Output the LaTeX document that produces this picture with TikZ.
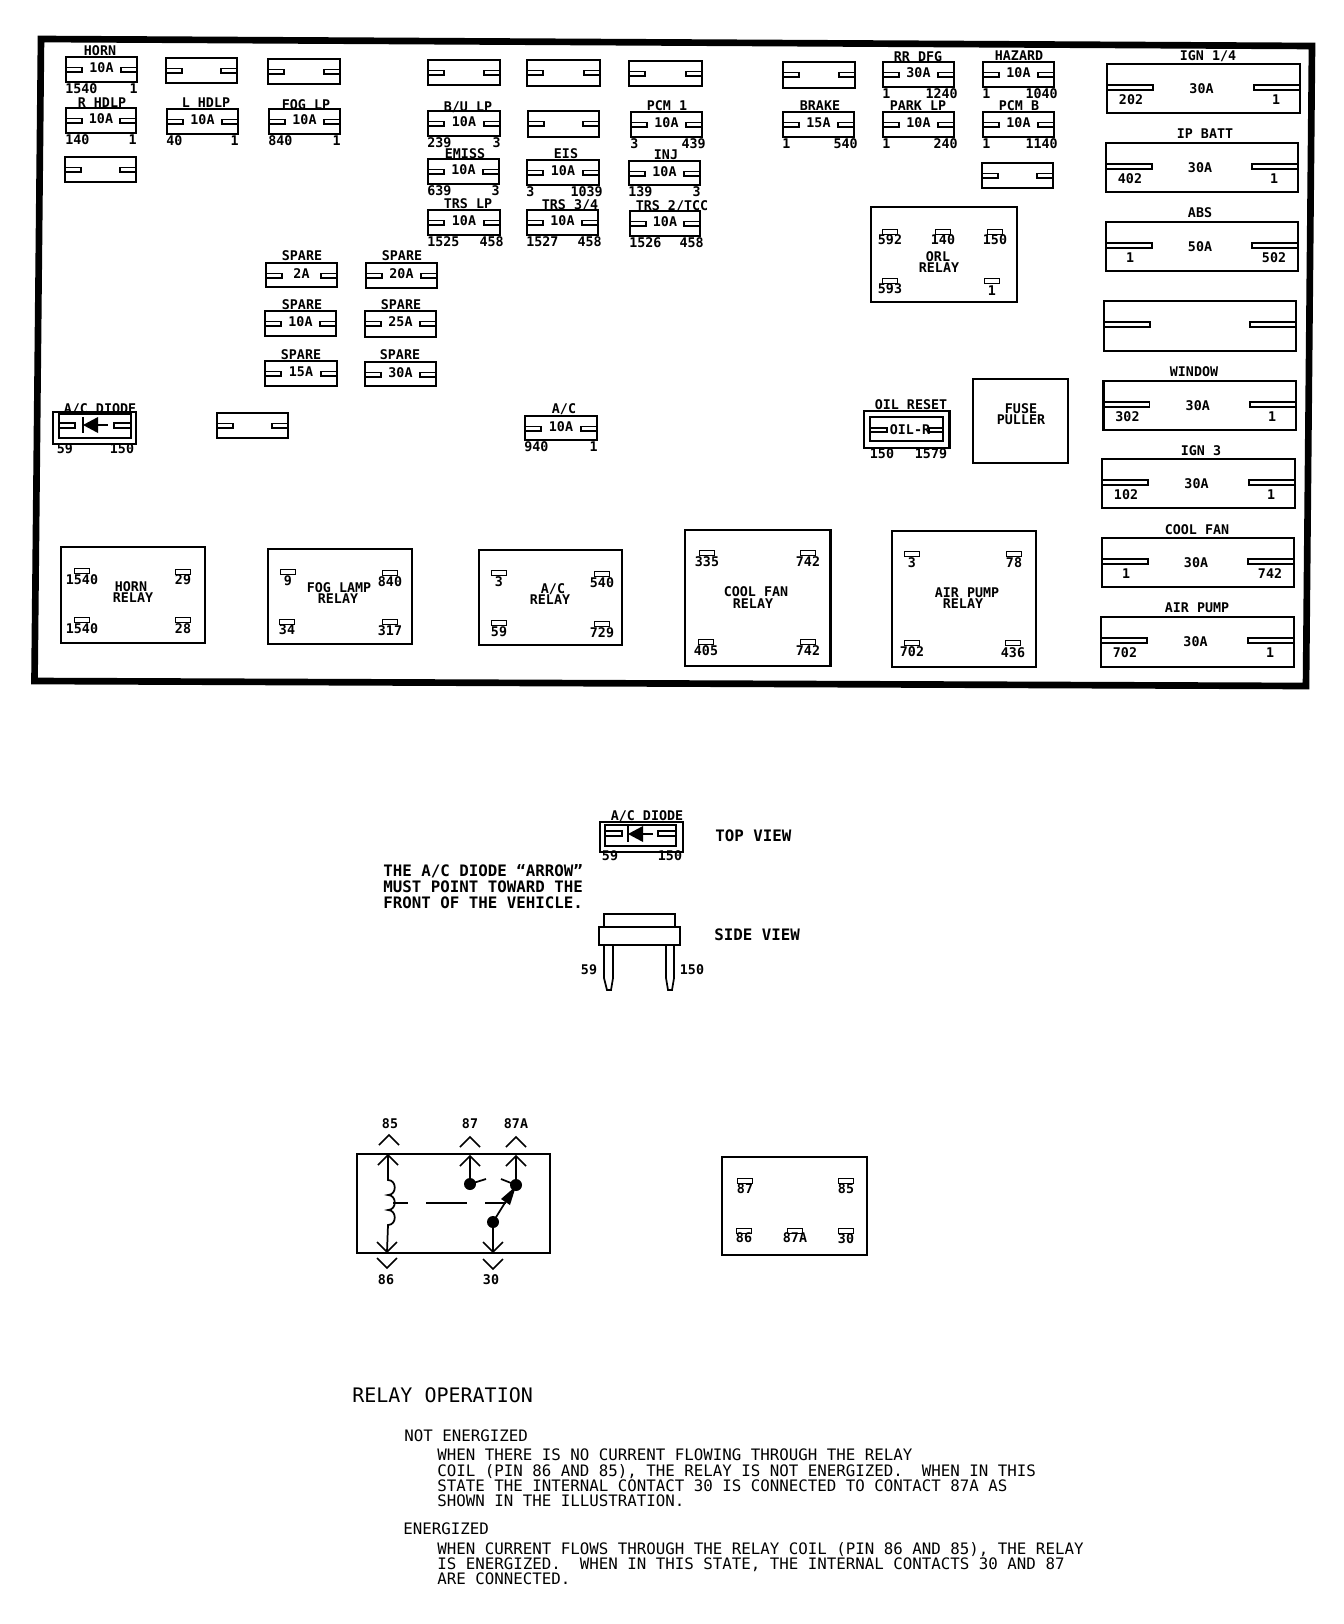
\documentclass[tikz,border=0pt]{standalone}
\usepackage{fontspec}
\setmainfont{DejaVu Sans Mono}
\newfontfamily\labfont{DejaVu Sans Mono}[BoldFont={DejaVu Sans Mono Bold}]
\frenchspacing
\newcounter{nn}
\tikzset{
  lab/.style={inner sep=0pt,text height=7.3pt,text depth=0pt,font=\labfont\bfseries\fontsize{10}{10}\selectfont},
  note/.style={inner sep=0pt,text height=8.6pt,text depth=0pt,font=\labfont\bfseries\fontsize{11.84}{11.84}\selectfont},
  body/.style={inner sep=0pt,text height=8.6pt,text depth=0pt,font=\fontsize{11.84}{11.84}\selectfont},
  head/.style={inner sep=0pt,text height=11pt,text depth=0pt,font=\fontsize{15}{15}\selectfont},
  ln/.style={line width=1.7pt,line join=miter},
  thin ln/.style={line width=1.3pt},
  frame ln/.style={line width=5pt,line join=miter},
}
% text helper: every node gets its own name
\newcommand\txt[4][lab]{\stepcounter{nn}\node[#1] (n\arabic{nn}) at ({#2},{#3}) {#4};}
\newcommand\txtw[4][body]{\stepcounter{nn}\node[#1,anchor=west] (n\arabic{nn}) at ({#2},{#3}) {#4};}
\newcommand\txte[4][lab]{\stepcounter{nn}\node[#1,anchor=east] (n\arabic{nn}) at ({#2},{#3}) {#4};}
% blank small fuse: x1 y1 x2 y2
\newcommand\blankfuse[4]{%
  \draw[ln] (#1,#2) rectangle (#3,#4);
  \draw[thin ln] (#1,{#2+10.5}) -- ({#1+16},{#2+10.5}) -- ({#1+16},{#2+15}) -- (#1,{#2+15});
  \draw[thin ln] (#3,{#2+10.5}) -- ({#3-16},{#2+10.5}) -- ({#3-16},{#2+15}) -- (#3,{#2+15});
}
% fuse: x1 y1 x2 y2 amp pinL pinR
\newcommand\fuse[7]{%
  \blankfuse{#1}{#2}{#3}{#4}
  \txt{(#1+#3)/2}{#2+11}{#5}
  \txtw[lab]{#1-1}{#4+6.5}{#6}
  \txte{#3+\ifnum 0#7>9 4\else 1\fi}{#4+6.5}{#7}
}
% large fuse
\newcommand\blankbig[4]{%
  \draw[ln] (#1,#2) rectangle (#3,#4);
  \draw[thin ln] (#1,{#2+21}) -- ({#1+46},{#2+21}) -- ({#1+46},{#2+26}) -- (#1,{#2+26});
  \draw[thin ln] (#3,{#2+21}) -- ({#3-46},{#2+21}) -- ({#3-46},{#2+26}) -- (#3,{#2+26});
}
\newcommand\bigfuse[7]{%
  \blankbig{#1}{#2}{#3}{#4}
  \txt{(#1+#3)/2-2}{#2+24.5}{#5}
  \txt{#1+24}{#2+35.5}{#6}
  \txt{#3-24}{#2+35.5}{#7}
}
% relay tab: x taby laby text
\newcommand\rtab[4]{%
  \draw[thin ln] ({#1-7.5},{#2-2.5}) rectangle ({#1+7.5},{#2+2.5});
  \txt{#1}{#3}{#4}
}
% diode: bar x, centre y
\newcommand\diode[2]{%
  \fill ({#1},#2) -- ({#1+15},{#2-8}) -- ({#1+15},{#2+8}) -- cycle;
  \draw[ln] ({#1},{#2-8}) -- ({#1},{#2+8});
  \draw[ln] ({#1+15},#2) -- ({#1+25},#2);
}
% chevron: x tip y, direction
\newcommand\chev[3]{\draw[thin ln] ({#1-10},{#2+10*#3}) -- (#1,#2) -- ({#1+10},{#2+10*#3});}
\begin{document}
\begin{tikzpicture}[x=0.75pt,y=-0.75pt]
\useasboundingbox (0,0) rectangle (1344,1624);
\fill[white] (0,0) rectangle (1344,1624);
% outer frame
\draw[frame ln] (41,39) -- (1312,46) -- (1306,686) -- (34.5,681) -- cycle;

% small fuses, left group
\fuse{66}{57}{137}{82}{10A}{1540}{1}      \txt{100}{51}{HORN}
\blankfuse{166}{58}{237}{83}
\blankfuse{268}{59}{340}{84}
\fuse{66}{108}{136}{133}{10A}{140}{1}     \txt{102}{103}{R HDLP}
\fuse{167}{109}{238}{134}{10A}{40}{1}     \txt{206}{103}{L HDLP}
\fuse{269}{109}{340}{134}{10A}{840}{1}    \txt{306}{105}{FOG LP}
\blankfuse{65}{157}{136}{182}
% spares
\fuse{266}{263}{337}{287}{2A}{}{}         \txt{302}{256}{SPARE}
\fuse{366}{263}{437}{288}{20A}{}{}        \txt{402}{256}{SPARE}
\fuse{265}{311}{336}{336}{10A}{}{}        \txt{302}{305}{SPARE}
\fuse{365}{311}{436}{337}{25A}{}{}        \txt{401}{305}{SPARE}
\fuse{265}{361}{337}{386}{15A}{}{}        \txt{301}{355}{SPARE}
\fuse{365}{362}{436}{386}{30A}{}{}        \txt{400}{355}{SPARE}
% middle columns
\blankfuse{428}{60}{500}{85}
\blankfuse{527}{60}{600}{86}
\blankfuse{629}{61}{702}{86}
\blankfuse{783}{62}{855}{88}
\fuse{428}{111}{500}{136}{10A}{239}{3}    \txt{468}{107}{B/U LP}
\blankfuse{528}{111}{599}{137}
\fuse{631}{112}{702}{137}{10A}{3}{439}    \txt{667}{106}{PCM 1}
\fuse{428}{159}{499}{184}{10A}{639}{3}    \txt{465}{154}{EMISS}
\fuse{527}{160}{599}{185}{10A}{3}{1039}   \txt{566}{154}{EIS}
\fuse{629}{161}{700}{185}{10A}{139}{3}    \txt{666}{155}{INJ}
\fuse{428}{210}{500}{235}{10A}{1525}{458} \txt{468}{204}{TRS LP}
\fuse{527}{210}{598}{235}{10A}{1527}{458} \txt{570}{205}{TRS 3/4}
\fuse{630}{211}{700}{236}{10A}{1526}{458} \txt{672}{206}{TRS 2/TCC}
% right small fuses
\fuse{783}{112}{854}{137}{15A}{1}{540}    \txt{820}{106}{BRAKE}
\fuse{883}{62}{954}{87}{30A}{1}{1240}     \txt{918}{57}{RR DFG}
\fuse{883}{112}{954}{137}{10A}{1}{240}    \txt{918}{106}{PARK LP}
\fuse{983}{62}{1054}{87}{10A}{1}{1040}    \txt{1019}{56}{HAZARD}
\fuse{983}{112}{1054}{137}{10A}{1}{1140}  \txt{1019}{106}{PCM B}
\blankfuse{982}{163}{1053}{188}

% large fuses
\bigfuse{1107}{64}{1300}{113}{30A}{202}{1}   \txt{1208}{56}{IGN 1/4}
\bigfuse{1106}{143}{1298}{192}{30A}{402}{1}  \txt{1205}{134}{IP BATT}
\bigfuse{1106}{222}{1298}{271}{50A}{1}{502}  \txt{1200}{213}{ABS}
\blankbig{1104}{301}{1296}{351}
\bigfuse{1103.5}{381}{1296}{430}{30A}{302}{1} \txt{1194}{372}{WINDOW}
\bigfuse{1102}{459}{1295}{508}{30A}{102}{1}  \txt{1201}{451}{IGN 3}
\bigfuse{1102}{538}{1294}{587}{30A}{1}{742}  \txt{1197}{530}{COOL FAN}
\bigfuse{1101}{617}{1294}{667}{30A}{702}{1}  \txt{1197}{608}{AIR PUMP}

% ORL relay
\draw[ln] (871,207) rectangle (1017,302);
\rtab{890}{232}{240}{592} \rtab{943}{232}{240}{140} \rtab{995}{232}{240}{150}
\rtab{890}{281}{289}{593} \rtab{992}{281}{291}{1}
\txt{938}{257}{ORL} \txt{939}{268}{RELAY}

% A/C diode
\draw[ln] (53,412) rectangle (136,444);
\draw[ln] (59,414) rectangle (131,438);
\draw[thin ln] (59,423) -- (75,423) -- (75,428) -- (59,428);
\draw[thin ln] (131,423) -- (114,423) -- (114,428) -- (131,428);
\diode{83}{425}
\txt{100}{409}{A/C DIODE} \txt{65}{449}{59} \txt{122}{449}{150}
\blankfuse{217}{413}{288}{438}
\fuse{525}{416}{597}{440}{10A}{940}{1}    \txt{564}{409}{A/C}

% oil reset
\draw[ln] (864,411) rectangle (949.5,448);
\draw[ln] (870,417) rectangle (943,441);
\draw[thin ln] (870,428) -- (887,428) -- (887,432) -- (870,432);
\draw[thin ln] (943,428) -- (929,428) -- (929,432) -- (943,432);
\txt{910}{430}{OIL-R} \txt{911}{405}{OIL RESET}
\txt{882}{454}{150} \txt{931}{454}{1579}
% fuse puller
\draw[ln] (973,379) rectangle (1068,463);
\txt{1021}{409}{FUSE} \txt{1021}{420}{PULLER}

% relays, bottom row
\draw[ln] (61,547) rectangle (205,643);
\rtab{82}{571}{580}{1540} \rtab{183}{572}{580}{29}
\rtab{82}{620}{629}{1540} \rtab{183}{620}{629}{28}
\txt{131}{587}{HORN} \txt{133}{598}{RELAY}

\draw[ln] (268,549) rectangle (412,644);
\rtab{288}{572}{581}{9} \rtab{390}{573}{582}{840}
\rtab{287}{622}{630}{34} \rtab{390}{622}{631}{317}
\txt{339}{588}{FOG LAMP} \txt{338}{599}{RELAY}

\draw[ln] (479,550) rectangle (622,645);
\rtab{499}{573}{582}{3} \rtab{602}{574}{583}{540}
\rtab{499}{623}{632}{59} \rtab{602}{624}{633}{729}
\txt{553}{589}{A/C} \txt{550}{600}{RELAY}

\draw[ln] (685,530) rectangle (830.5,666);
\rtab{707}{553}{562}{335} \rtab{808}{553}{562}{742}
\rtab{706}{642}{651}{405} \rtab{808}{642}{651}{742}
\txt{756}{592}{COOL FAN} \txt{753}{604}{RELAY}

\draw[ln] (892,531) rectangle (1036,667);
\rtab{912}{554}{563}{3} \rtab{1014}{554}{563}{78}
\rtab{912}{643}{652}{702} \rtab{1013}{643}{653}{436}
\txt{967}{593}{AIR PUMP} \txt{963}{604}{RELAY}

% diode detail, top view
\draw[ln] (600,822) rectangle (683,852);
\draw[ln] (605,825) rectangle (676,846);
\draw[thin ln] (605,831) -- (622,831) -- (622,836) -- (605,836);
\draw[thin ln] (676,831) -- (658,831) -- (658,836) -- (676,836);
\diode{628}{834}
\txt{647}{816}{A/C DIODE} \txt{610}{856}{59} \txt{670}{856}{150}
\txtw[note]{715}{836}{TOP VIEW}
\txtw[note]{383}{871}{THE A/C DIODE “ARROW”}
\txtw[note]{383}{887}{MUST POINT TOWARD THE}
\txtw[note]{383}{903}{FRONT OF THE VEHICLE.}
\txtw[note]{714}{935}{SIDE VIEW}
% side view
\draw[thin ln] (604,928) -- (604,914) -- (675,914) -- (675,928);
\draw[ln] (599,927) rectangle (680,945);
\draw[thin ln] (604,945) -- (604,978) -- (607,990) -- (611,990) -- (613,978) -- (613,945);
\draw[thin ln] (666,945) -- (666,978) -- (668,990) -- (672,990) -- (674,978) -- (674,945);
\txt{589}{970}{59} \txt{692}{970}{150}

% relay schematic
\draw[ln] (357,1154) rectangle (550,1253);
\txt{390}{1124}{85} \txt{470}{1124}{87} \txt{516}{1124}{87A}
\txt{386}{1280}{86} \txt{491}{1280}{30}
\chev{389}{1135}{1} \chev{470}{1137}{1} \chev{516}{1137}{1}
\chev{387}{1268}{-1} \chev{493}{1269}{-1}
\chev{388}{1155}{1} \chev{470}{1156}{1} \chev{516}{1156}{1}
\chev{387}{1252}{-1} \chev{493}{1252}{-1}
\coordinate (c85) at (388,1155);
\coordinate (c86) at (387,1252);
\coordinate (c87) at (470,1156);
\coordinate (c87a) at (516,1156);
\coordinate (c30) at (493,1252);
\coordinate (coilT) at (388,1180);
\coordinate (coilB) at (388,1225);
\coordinate (d87) at (470,1184);
\coordinate (d87a) at (516,1185);
\coordinate (d30) at (493,1222);
\draw[thin ln] (c85) -- (coilT)
  .. controls (397,1180) and (397,1195) .. (388,1195)
  .. controls (397,1195) and (397,1210) .. (388,1210)
  .. controls (397,1210) and (397,1225) .. (388,1225) -- (c86);
\draw[thin ln] (c87) -- (d87);
\draw[thin ln] (c87a) -- (d87a);
\draw[thin ln] (c30) -- (d30);
\draw[thin ln] (d30) -- (d87a);
\draw[thin ln] (d87) -- (486,1179);
\draw[thin ln] (501,1179) -- (d87a);
\fill (d87) circle [radius=6];
\fill (d87a) circle [radius=6];
\fill (d30) circle [radius=6];
\fill (516,1186) -- (501,1199) -- (510,1205) -- cycle;
\draw[thin ln] (393,1203) -- (408,1203);
\draw[thin ln] (426,1203) -- (467,1203);
\draw[thin ln] (485,1203) -- (506,1203);

% relay pin-out
\draw[ln] (722,1157) rectangle (867,1255);
\rtab{745}{1181}{1189}{87} \rtab{846}{1181}{1189}{85}
\rtab{744}{1231}{1238}{86} \rtab{795}{1231}{1238}{87A} \rtab{846}{1231}{1239}{30}

% relay operation text
\txtw[head]{352}{1395}{RELAY OPERATION}
\txtw{404}{1436}{NOT ENERGIZED}
\txtw{437}{1455}{WHEN THERE IS NO CURRENT FLOWING THROUGH THE RELAY}
\txtw{437}{1471}{COIL (PIN 86 AND 85), THE RELAY IS NOT ENERGIZED.~~WHEN IN THIS}
\txtw{437}{1486}{STATE THE INTERNAL CONTACT 30 IS CONNECTED TO CONTACT 87A AS}
\txtw{437}{1501}{SHOWN IN THE ILLUSTRATION.}
\txtw{403}{1529}{ENERGIZED}
\txtw{437}{1549}{WHEN CURRENT FLOWS THROUGH THE RELAY COIL (PIN 86 AND 85), THE RELAY}
\txtw{437}{1564}{IS ENERGIZED.~~WHEN IN THIS STATE, THE INTERNAL CONTACTS 30 AND 87}
\txtw{437}{1579}{ARE CONNECTED.}
\end{tikzpicture}
\end{document}
